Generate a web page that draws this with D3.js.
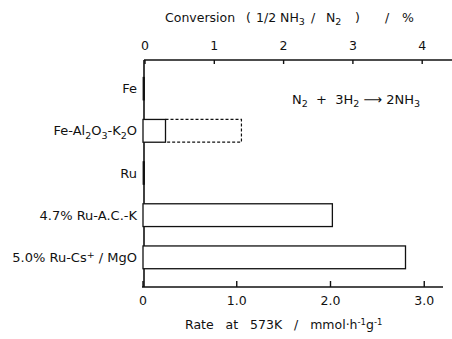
<!DOCTYPE html>
<html lang="en">
<head>
<meta charset="UTF-8">
<script src="https://cdn.jsdelivr.net/npm/d3@7"></script>
<style>
  body { margin: 0; background: #fff; }
  text { font-family: "DejaVu Sans", sans-serif; fill: #111; white-space: pre; }
</style>
</head>
<body>
<script>
// catalysts, top to bottom
var catalysts = ["Fe", "Fe-Al2O3-K2O", "Ru", "4.7% Ru-A.C.-K", "5.0% Ru-Cs+/MgO"];
// rate at 573K (mmol h-1 g-1)
var rates = [0.01, 0.24, 0.01, 2.02, 2.8];
// dashed extension (only Fe-Al2O3-K2O)
var dashedTo = [null, 1.05, null, null, null];
var rateTicks = [0, 1.0, 2.0, 3.0];
var convTicks = [0, 1, 2, 3, 4];

var width = 452, height = 339;
var svg = d3.select("body").append("svg")
  .attr("width", width).attr("height", height);

var x = d3.scaleLinear().domain([0, 3.2]).range([143, 443]);
var xc = d3.scaleLinear().domain([0, 4.43]).range([145, 452]);
var y = d3.scaleBand().domain(catalysts).range([68, 278]).paddingInner(0.46).paddingOuter(0.22);

// axes lines
svg.append("line").attr("x1", 144).attr("x2", 144).attr("y1", 60).attr("y2", 287)
  .attr("stroke", "#111").attr("stroke-width", 1.6);
svg.append("line").attr("x1", 142).attr("x2", 443).attr("y1", 287).attr("y2", 287)
  .attr("stroke", "#111").attr("stroke-width", 1.6);
svg.append("line").attr("x1", 144).attr("x2", 452).attr("y1", 60).attr("y2", 60)
  .attr("stroke", "#111").attr("stroke-width", 1.4);

// bottom ticks
var bt = svg.append("g");
bt.selectAll("line").data(rateTicks).enter().append("line")
  .attr("x1", d => x(d)).attr("x2", d => x(d)).attr("y1", 287).attr("y2", 281)
  .attr("stroke", "#111").attr("stroke-width", 1.4);
bt.selectAll("text").data(rateTicks).enter().append("text")
  .attr("x", d => x(d)).attr("y", 305).attr("text-anchor", "middle")
  .style("font-size", "12.5px")
  .text(d => d === 0 ? "0" : d.toFixed(1));

// top ticks
var tt = svg.append("g");
tt.selectAll("line").data(convTicks).enter().append("line")
  .attr("x1", d => xc(d)).attr("x2", d => xc(d)).attr("y1", 60).attr("y2", 64)
  .attr("stroke", "#111").attr("stroke-width", 1.4);
tt.selectAll("text").data(convTicks).enter().append("text")
  .attr("x", d => xc(d)).attr("y", 50).attr("text-anchor", "middle")
  .style("font-size", "12.5px")
  .text(d => d);

// bars
var bars = svg.append("g");
bars.selectAll("rect").data(catalysts).enter().append("rect")
  .attr("x", x(0)).attr("y", d => y(d))
  .attr("width", (d, i) => Math.max(x(rates[i]) - x(0), 1.5))
  .attr("height", y.bandwidth())
  .attr("fill", (d, i) => rates[i] < 0.05 ? "#111" : "#fff")
  .attr("stroke", "#111").attr("stroke-width", (d, i) => rates[i] < 0.05 ? 0.8 : 1.3);

// dashed extension
catalysts.forEach(function(c, i) {
  if (dashedTo[i] == null) return;
  var x0 = x(rates[i]), x1 = x(dashedTo[i]), y0 = y(c), y1 = y(c) + y.bandwidth();
  svg.append("path")
    .attr("d", "M" + x0 + "," + y0 + "H" + x1 + "V" + y1 + "H" + x0)
    .attr("fill", "none").attr("stroke", "#111").attr("stroke-width", 1.2)
    .attr("stroke-dasharray", "3,2");
});

// category labels with sub/superscripts
var lab = svg.append("g");
var parts = [
  [["Fe", 0]],
  [["Fe-Al", 0], ["2", 1], ["O", 0], ["3", 1], ["-K", 0], ["2", 1], ["O", 0]],
  [["Ru", 0]],
  [["4.7% Ru-A.C.-K", 0]],
  [["5.0% Ru-Cs", 0], ["+", -1], [" / MgO", 0]]
];
catalysts.forEach(function(c, i) {
  var t = lab.append("text")
    .attr("x", 137).attr("y", y(c) + y.bandwidth() / 2 + 4.5)
    .attr("text-anchor", "end").style("font-size", "13px");
  var prev = 0;
  parts[i].forEach(function(p) {
    var shift = p[1] * 4 - prev * 4;
    t.append("tspan").attr("dy", shift)
      .style("font-size", p[1] !== 0 ? "9.5px" : "13px")
      .text(p[0]);
    prev = p[1];
  });
});

// equation
var eq = svg.append("text").attr("x", 292).attr("y", 104).style("font-size", "13px");
eq.append("tspan").text("N");
eq.append("tspan").attr("dy", 3).style("font-size", "9.5px").text("2");
eq.append("tspan").attr("dy", -3).text("  +  3H");
eq.append("tspan").attr("dy", 3).style("font-size", "9.5px").text("2");
eq.append("tspan").attr("dy", -3).text(" \u27F6 2NH");
eq.append("tspan").attr("dy", 3).style("font-size", "9.5px").text("3");

// top title, pieces placed as in the original
var tt2 = svg.append("text").attr("y", 22).style("font-size", "12.5px");
tt2.append("tspan").attr("x", 165).text("Conversion");
tt2.append("tspan").attr("x", 246).text("(");
tt2.append("tspan").attr("x", 256).text("1/2 NH");
tt2.append("tspan").attr("dy", 3).style("font-size", "9.5px").text("3");
tt2.append("tspan").attr("x", 311).attr("dy", -3).text("/");
tt2.append("tspan").attr("x", 326).text("N");
tt2.append("tspan").attr("dy", 3).style("font-size", "9.5px").text("2");
tt2.append("tspan").attr("x", 355).attr("dy", -3).text(")");
tt2.append("tspan").attr("x", 385).text("/");
tt2.append("tspan").attr("x", 402).text("%");

// bottom title
var bt2 = svg.append("text").attr("x", 185).attr("y", 329).style("font-size", "12.5px");
bt2.append("tspan").text("Rate   at   573K   /   mmol\u00B7h");
bt2.append("tspan").attr("dy", -4).style("font-size", "8.5px").text("-1");
bt2.append("tspan").attr("dy", 4).text("g");
bt2.append("tspan").attr("dy", -4).style("font-size", "8.5px").text("-1");
</script>
</body>
</html>
